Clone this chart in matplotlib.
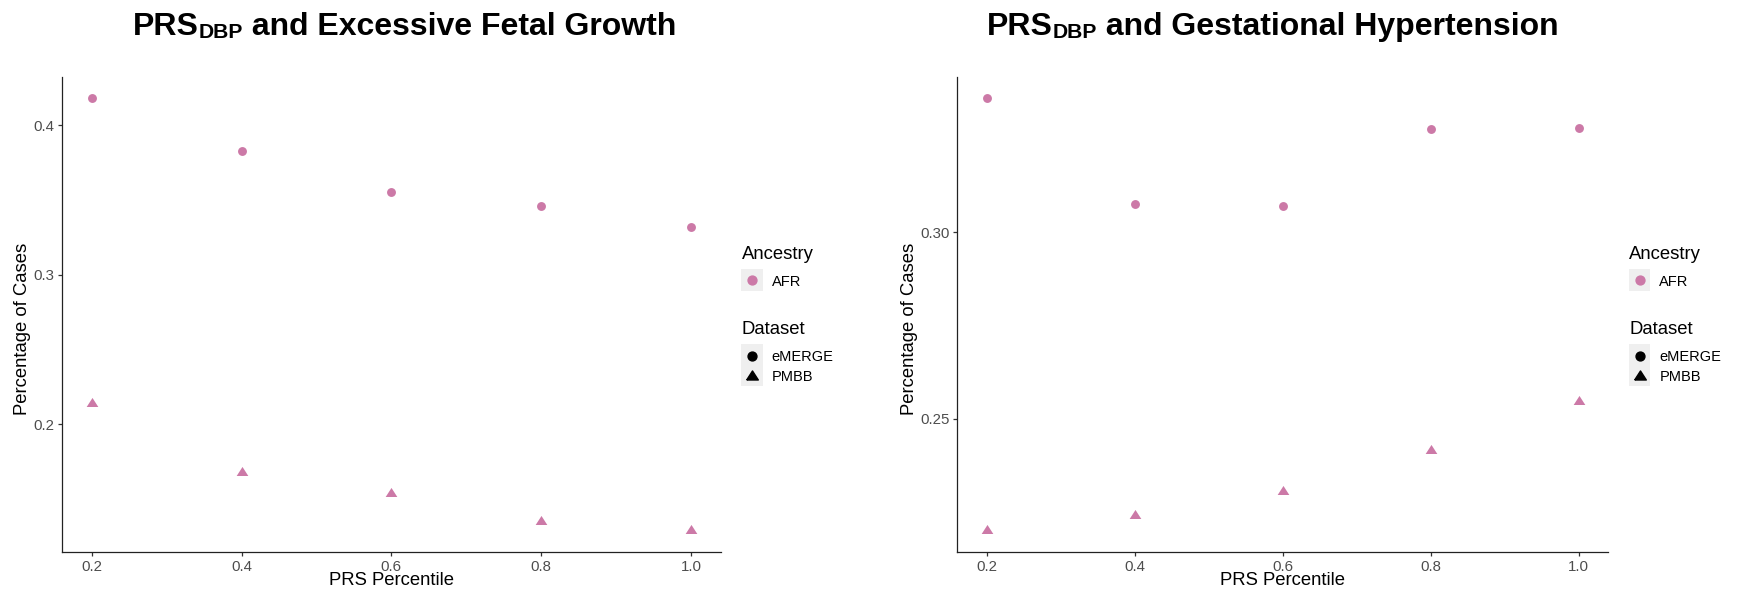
# PRS (DBP) vs percentage of cases, two panels side by side
# values were read off the original figure

import matplotlib
matplotlib.use("Agg")
import matplotlib.pyplot as plt
from matplotlib.lines import Line2D
from matplotlib.patches import Rectangle

percentiles = [0.2, 0.4, 0.6, 0.8, 1.0]

# Excessive Fetal Growth
fetal_emerge = [0.418, 0.383, 0.355, 0.346, 0.332]
fetal_pmbb = [0.214, 0.168, 0.154, 0.135, 0.129]

# Gestational Hypertension
gh_emerge = [0.336, 0.3077, 0.307, 0.3278, 0.3281]
gh_pmbb = [0.220, 0.2242, 0.2307, 0.2417, 0.2547]

x_ticks = [0.2, 0.4, 0.6, 0.8, 1.0]
x_tick_labels = ["0.2", "0.4", "0.6", "0.8", "1.0"]
fetal_y_ticks = [0.2, 0.3, 0.4]
fetal_y_labels = ["0.2", "0.3", "0.4"]
gh_y_ticks = [0.25, 0.30]
gh_y_labels = ["0.25", "0.30"]

title_rest = [" and Excessive Fetal Growth", " and Gestational Hypertension"]

AFR_COLOR = "#CC79A7"
W, H = 1739, 599

plt.rcParams["font.family"] = ["Liberation Sans", "DejaVu Sans"]

# ggplot-ish triangle (wider than tall)
TRI = [(-1, -0.6), (1, -0.6), (0, 0.95), (-1, -0.6)]


def px(x, y):
    # pixel position (from top-left) -> figure fraction
    return x / W, 1 - y / H


def style_axes(ax, yticks, ylabels, ylabel_x):
    for side in ["top", "right"]:
        ax.spines[side].set_visible(False)
    for side in ["left", "bottom"]:
        ax.spines[side].set_color("#222222")
        ax.spines[side].set_linewidth(0.9)
    ax.set_xlim(0.16, 1.04)
    ax.margins(y=0.05)
    ax.set_xticks(x_ticks)
    ax.set_xticklabels(x_tick_labels)
    ax.set_yticks(yticks)
    ax.set_yticklabels(ylabels)
    ax.tick_params(axis="both", length=3, width=0.9, color="#333333",
                   labelsize=10.8, labelcolor="#4D4D4D")
    ax.tick_params(axis="x", pad=3)
    ax.tick_params(axis="y", pad=2.5)
    ax.set_xlabel("PRS Percentile", fontsize=13.3)
    ax.set_ylabel("Percentage of Cases", fontsize=13.3)
    ax.xaxis.set_label_coords(0.5, -0.06)
    ax.xaxis.label.set_va("center")
    ax.yaxis.set_label_coords(ylabel_x, 0.47)
    ax.yaxis.label.set_va("center")


def draw_title(fig, cx, base_y, rest, size=23):
    # "PRS" + small "DBP" + rest, centred on cx (pixels)
    r = fig.canvas.get_renderer()
    sub = size * 0.66
    parts = [("PRS", size, 0), ("DBP", sub, 3), (rest, size, 0)]
    texts = []
    for s, fs, dy in parts:
        t = fig.text(0, 0, s, fontsize=fs, fontweight="bold", va="baseline")
        texts.append((t, dy))
    widths = [t.get_window_extent(r).width for t, _ in texts]
    x = cx - sum(widths) / 2
    for (t, dy), w in zip(texts, widths):
        t.set_position(px(x, base_y + dy))
        x += w


def draw_legend(fig, x0):
    key_bg = "#EFEFEF"
    fig.text(*px(x0, 258.5), "Ancestry", fontsize=13.3, va="baseline")
    fig.add_artist(Rectangle(px(x0 - 0.5, 290.7), 21.7 / W, 21.4 / H,
                             transform=fig.transFigure, color=key_bg, lw=0))
    fig.add_artist(Line2D([px(x0 + 10.3, 0)[0]], [px(0, 280)[1]], marker="o",
                          markersize=6.4, color=AFR_COLOR, lw=0,
                          transform=fig.transFigure))
    fig.text(*px(x0 + 30, 286), "AFR", fontsize=10.5, va="baseline")

    fig.text(*px(x0, 334), "Dataset", fontsize=13.3, va="baseline")
    fig.add_artist(Rectangle(px(x0 - 0.5, 386), 21.7 / W, 41.7 / H,
                             transform=fig.transFigure, color=key_bg, lw=0))
    fig.add_artist(Line2D([px(x0 + 10.3, 0)[0]], [px(0, 355.5)[1]], marker="o",
                          markersize=6.4, color="black", lw=0,
                          transform=fig.transFigure))
    fig.add_artist(Line2D([px(x0 + 10.3, 0)[0]], [px(0, 376)[1]], marker=TRI,
                          markersize=8.4, color="black", lw=0,
                          transform=fig.transFigure))
    fig.text(*px(x0 + 30, 361), "eMERGE", fontsize=10.5, va="baseline")
    fig.text(*px(x0 + 30, 381.3), "PMBB", fontsize=10.5, va="baseline")


def main():
    fig = plt.figure(figsize=(W / 100, H / 100), dpi=100)

    bottom = 1 - 552 / H
    height = (552 - 76.7) / H
    ax1 = fig.add_axes([61.7 / W, bottom, (721 - 61.7) / W, height])
    ax2 = fig.add_axes([957.3 / W, bottom, (1608.3 - 957.3) / W, height])

    panels = [
        (ax1, fetal_emerge, fetal_pmbb, fetal_y_ticks, fetal_y_labels, -0.06),
        (ax2, gh_emerge, gh_pmbb, gh_y_ticks, gh_y_labels, -0.074),
    ]
    for ax, emerge, pmbb, yt, yl, ylx in panels:
        ax.plot(percentiles, emerge, "o", color=AFR_COLOR, markersize=6.4,
                markeredgewidth=0, linestyle="none")
        ax.plot(percentiles, pmbb, marker=TRI, color=AFR_COLOR, markersize=8.4,
                markeredgewidth=0, linestyle="none")
        style_axes(ax, yt, yl, ylx)

    draw_title(fig, 405, 35, title_rest[0])
    draw_title(fig, 1272.6, 35, title_rest[1])

    draw_legend(fig, 741.7)
    draw_legend(fig, 1629.3)

    fig.savefig("out.png", dpi=100)


main()
